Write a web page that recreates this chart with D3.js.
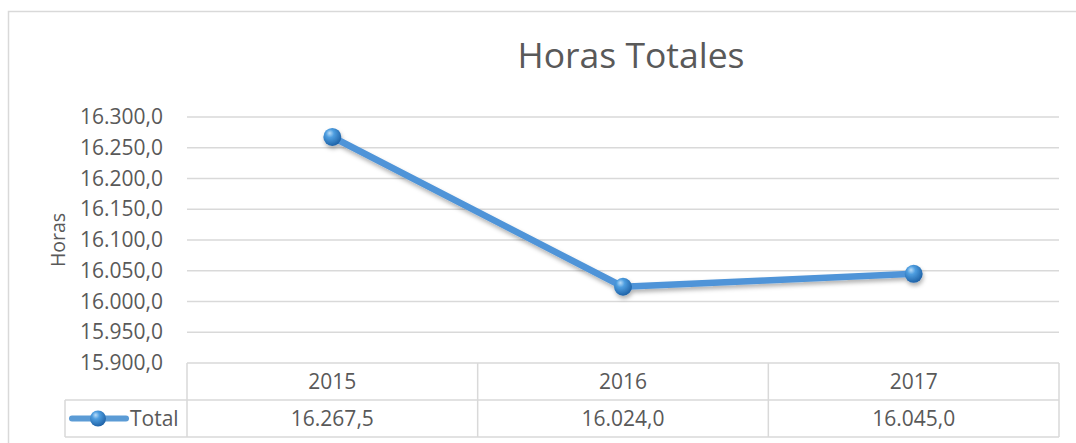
<!DOCTYPE html>
<html>
<head>
<meta charset="utf-8">
<script src="https://cdn.jsdelivr.net/npm/d3@7"></script>
<style>
  body { margin: 0; background: #fff; }
  svg { display: block; font-family: "Open Sans", sans-serif; }
  text { fill: #595959; }
</style>
</head>
<body>
<svg id="chart" width="1076" height="443"></svg>
<script>
var years = ["2015", "2016", "2017"];
var totals = [16267.5, 16024.0, 16045.0];
var yTicks = [15900, 15950, 16000, 16050, 16100, 16150, 16200, 16250, 16300];
var seriesName = "Total";

var svg = d3.select("#chart");
var W = 1076, H = 443;
var plot = {left: 187, right: 1059, top: 117, bottom: 363};
var rowH = 37;

var fmt = function(v) {
  return d3.format(",.1f")(v).replace(/,/g, "#").replace(".", ",").replace(/#/g, ".");
};

var defs = svg.append("defs");
var grad = defs.append("radialGradient").attr("id", "ball")
  .attr("cx", "40%").attr("cy", "35%").attr("r", "65%").attr("fx", "35%").attr("fy", "28%");
grad.append("stop").attr("offset", "0%").attr("stop-color", "#b9dcf8");
grad.append("stop").attr("offset", "35%").attr("stop-color", "#4e9ee0");
grad.append("stop").attr("offset", "100%").attr("stop-color", "#1f63a8");
defs.append("filter").attr("id", "shadow").attr("x", "-20%").attr("y", "-20%").attr("width", "140%").attr("height", "160%")
  .append("feDropShadow").attr("dx", 1).attr("dy", 3).attr("stdDeviation", 2)
  .attr("flood-color", "#000").attr("flood-opacity", 0.3);

// outer border
svg.append("rect").attr("x", 8.5).attr("y", 11.5).attr("width", W).attr("height", H)
  .attr("fill", "none").attr("stroke", "#d9d9d9").attr("stroke-width", 1.5);

var x = d3.scaleBand().domain(years).range([plot.left, plot.right]);
var y = d3.scaleLinear().domain([15900, 16300]).range([plot.bottom, plot.top]);

// gridlines
svg.append("g").selectAll("line")
  .data(yTicks.filter(function(d) { return d > 15900; }))
  .enter().append("line")
  .attr("x1", plot.left).attr("x2", plot.right)
  .attr("y1", function(d) { return y(d); }).attr("y2", function(d) { return y(d); })
  .attr("stroke", "#d9d9d9").attr("stroke-width", 1.5);

// y axis labels
var yAxis = d3.axisLeft(y).tickValues(yTicks).tickFormat(fmt).tickSize(0).tickPadding(0);
var yg = svg.append("g").attr("transform", "translate(163,0)").call(yAxis);
yg.select(".domain").remove();
yg.selectAll("text").attr("font-size", 21).attr("fill", "#595959").attr("font-family", "Open Sans");

// axis title
svg.append("text").attr("transform", "translate(65,240) rotate(-90)")
  .attr("text-anchor", "middle").attr("font-size", 19.5).text("Horas");

// chart title
svg.append("text").attr("x", 631).attr("y", 68).attr("text-anchor", "middle")
  .attr("font-size", 35.5).text("Horas Totales");

// data table
var tbl = svg.append("g").attr("fill", "none").attr("stroke", "#d9d9d9").attr("stroke-width", 1.5);
tbl.append("line").attr("x1", plot.left).attr("x2", plot.right).attr("y1", plot.bottom).attr("y2", plot.bottom);
tbl.append("line").attr("x1", 65).attr("x2", plot.right).attr("y1", plot.bottom + rowH).attr("y2", plot.bottom + rowH);
tbl.append("line").attr("x1", 65).attr("x2", plot.right).attr("y1", plot.bottom + 2 * rowH).attr("y2", plot.bottom + 2 * rowH);
tbl.append("line").attr("x1", 65).attr("x2", 65).attr("y1", plot.bottom + rowH).attr("y2", plot.bottom + 2 * rowH);
tbl.selectAll(".vline").data(years).enter().append("line")
  .attr("x1", function(d) { return x(d); }).attr("x2", function(d) { return x(d); })
  .attr("y1", plot.bottom).attr("y2", plot.bottom + 2 * rowH);
tbl.append("line").attr("x1", plot.right).attr("x2", plot.right).attr("y1", plot.bottom).attr("y2", plot.bottom + 2 * rowH);

svg.append("g").selectAll("text").data(years).enter().append("text")
  .attr("x", function(d) { return x(d) + x.bandwidth() / 2; })
  .attr("y", plot.bottom + rowH / 2 + 7.5)
  .attr("text-anchor", "middle").attr("font-size", 21).text(function(d) { return d; });

svg.append("g").selectAll("text").data(totals).enter().append("text")
  .attr("x", function(d, i) { return x(years[i]) + x.bandwidth() / 2; })
  .attr("y", plot.bottom + rowH * 1.5 + 7.5)
  .attr("text-anchor", "middle").attr("font-size", 21).text(function(d) { return fmt(d); });

// legend key
var ly = plot.bottom + rowH * 1.5;
svg.append("line").attr("x1", 72).attr("x2", 126).attr("y1", ly).attr("y2", ly)
  .attr("stroke", "#5b9bd5").attr("stroke-width", 6).attr("stroke-linecap", "round");
svg.append("circle").attr("cx", 98).attr("cy", ly).attr("r", 8).attr("fill", "url(#ball)");
svg.append("text").attr("x", 130).attr("y", ly + 7.5).attr("font-size", 21).text(seriesName);

// series line
var pts = years.map(function(d, i) { return {year: d, value: totals[i]}; });
var line = d3.line()
  .x(function(d) { return x(d.year) + x.bandwidth() / 2; })
  .y(function(d) { return y(d.value); });

var series = svg.append("g").attr("filter", "url(#shadow)");
series.append("path").datum(pts)
  .attr("d", line).attr("fill", "none")
  .attr("stroke", "#4f94d8").attr("stroke-width", 6.5).attr("stroke-linejoin", "round");
series.selectAll("circle").data(pts).enter().append("circle")
  .attr("cx", function(d) { return x(d.year) + x.bandwidth() / 2; })
  .attr("cy", function(d) { return y(d.value); })
  .attr("r", 9).attr("fill", "url(#ball)");
</script>
</body>
</html>
